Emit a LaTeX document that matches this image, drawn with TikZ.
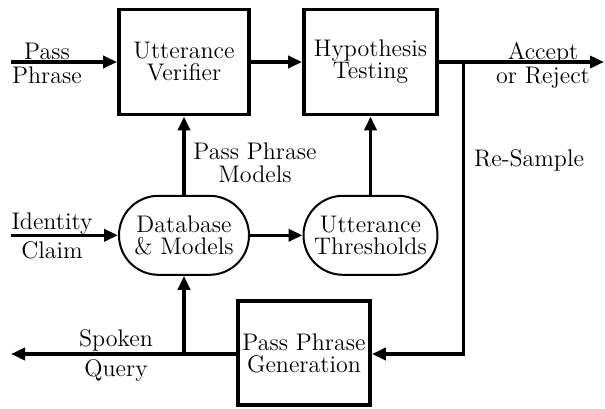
\documentclass[tikz,border=0pt]{standalone}
\usetikzlibrary{arrows.meta}

\begin{document}
\begin{tikzpicture}[x=0.5pt, y=-0.5pt,
  every node/.style = {align=center, font=\fontsize{12}{11}\selectfont},
  block/.style = {draw, line width=1.9pt, minimum width=65pt, minimum height=52.5pt, inner sep=0pt},
  store/.style = {draw, line width=1pt, rounded corners=19.7pt, minimum width=65pt, minimum height=39.5pt, inner sep=0pt},
  flow/.style = {line width=1.8pt, -{Triangle[length=7pt, width=6pt]}},
  wire/.style = {line width=1.8pt}]

  \useasboundingbox (0,0) rectangle (605,408);

  % processing blocks and stores
  \node [block] (verif) at (184,62) {Utterance\\Verifier};
  \node [block, minimum width=66.5pt] (hyp) at (370.5,62) {Hypothesis\\Testing};
  \node [store] (db) at (184,235.3) {Database\\\& Models};
  \node [store, minimum width=67pt] (thr) at (370.5,235.3) {Utterance\\Thresholds};
  \node [block, minimum width=66pt, minimum height=52pt] (gen) at (304,353) {Pass Phrase\\Generation};

  % free ends and corners
  \coordinate (ppin) at (11,62);
  \coordinate (out) at (604,62);
  \coordinate (split) at (463.3,62);
  \coordinate (turn) at (463.3,354);
  \coordinate (idin) at (11,235.3);
  \coordinate (query) at (11,354);
  \coordinate (tap) at (184,354);

  % connectors
  \draw [flow] (ppin) -- (verif.west);
  \draw [flow] (verif) -- (hyp);
  \draw [flow] (hyp.east) -- (out);
  \draw [flow] (split) -- (turn) -- (gen.east |- turn);
  \draw [flow] (db) -- (verif);
  \draw [flow] (thr) -- (hyp);
  \draw [flow] (idin) -- (db.west);
  \draw [flow] (db) -- (thr);
  \draw [flow] (gen.west |- query) -- (query);
  \draw [flow] (tap) -- (db.south);

  % labels
  \node (pp) at (47,63.5) {Pass\\[1pt]Phrase};
  \node (acc) at (543,65.5) {Accept\\[1pt]or Reject};
  \node (ppm) at (255,163) {Pass Phrase\\[0.5pt]Models};
  \node (rs) at (529,160) {Re-Sample};
  \node (idc) at (52,236) {Identity\\[3.5pt]Claim};
  \node (spk) at (116,355) {Spoken\\[4pt]Query};

\end{tikzpicture}
\end{document}
